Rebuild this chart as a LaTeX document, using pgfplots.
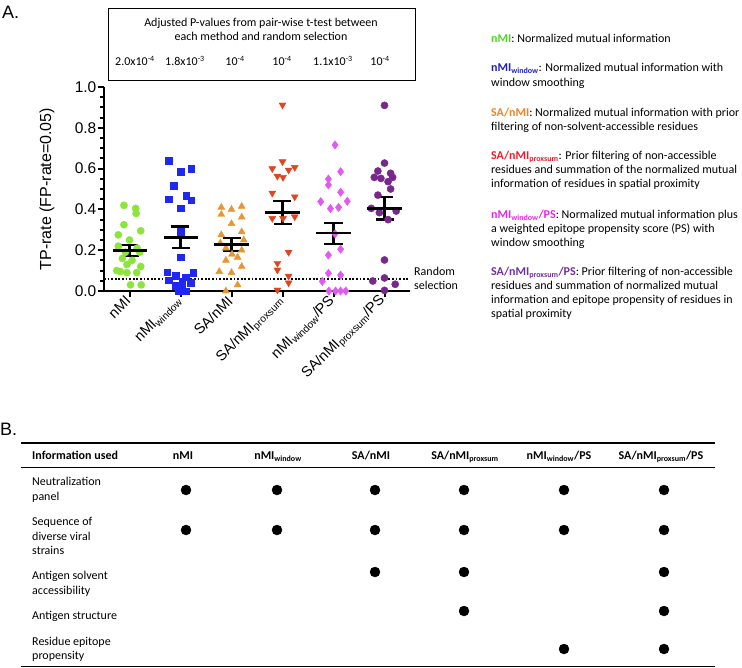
\documentclass[border=0pt]{standalone}
\usepackage{fontspec}
\setmainfont{Liberation Sans}
\newfontfamily\calib{Carlito}
\usepackage{pgfplots}
\usepackage{pgfplotstable}
\pgfplotsset{compat=1.18}

\definecolor{mkgreen}{RGB}{140,228,60}
\definecolor{mkblue}{RGB}{30,40,240}
\definecolor{mkorange}{RGB}{230,150,50}
\definecolor{mkred}{RGB}{222,70,35}
\definecolor{mkmagenta}{RGB}{225,90,240}
\definecolor{mkpurple}{RGB}{120,40,140}
% legend text colours
\definecolor{txgreen}{RGB}{80,210,40}
\definecolor{txblue}{RGB}{30,30,200}
\definecolor{txorange}{RGB}{240,130,40}
\definecolor{txred}{RGB}{235,30,40}
\definecolor{txmagenta}{RGB}{230,40,230}
\definecolor{txpurple}{RGB}{112,48,160}

\newcommand\cf{\calib\fontsize{12}{14.5}\selectfont}
\newcommand\sub[1]{\textsubscript{#1}}

% dx = horizontal jitter around the category, y = TP-rate
\pgfplotstableread{
dx y
-0.11 0.42
0.12 0.405
0.13 0.38
-0.11 0.325
0.22 0.295
-0.22 0.275
0.00 0.25
-0.22 0.22
0.15 0.21
-0.08 0.19
0.20 0.19
-0.14 0.16
0.05 0.15
-0.05 0.13
0.22 0.12
-0.25 0.10
-0.05 0.09
0.14 0.09
-0.18 0.095
0.02 0.03
0.23 0.03
}\nmi
\pgfplotstableread{
dx y
-0.23 0.64
0.00 0.585
0.21 0.60
-0.13 0.515
-0.23 0.45
0.11 0.467
0.21 0.445
0.00 0.405
0.00 0.29
0.00 0.165
-0.26 0.093
0.25 0.09
-0.10 0.076
0.10 0.068
-0.23 0.052
0.03 0.045
0.20 0.04
-0.10 0.027
0.03 0.015
-0.03 0.0
0.10 0.0
}\nmiw
\pgfplotstableread{
dx y
-0.20 0.41
0.00 0.40
0.20 0.415
-0.20 0.375
0.20 0.362
0.00 0.33
0.20 0.29
-0.20 0.275
0.24 0.25
-0.22 0.235
0.20 0.20
-0.11 0.21
0.01 0.18
0.12 0.165
-0.11 0.15
0.20 0.12
-0.24 0.095
0.00 0.09
0.12 0.03
-0.11 0.0
}\sanmi
\pgfplotstableread{
dx y
0.00 0.912
0.00 0.634
-0.20 0.60
0.12 0.593
0.24 0.606
-0.10 0.563
0.01 0.557
-0.20 0.48
0.24 0.462
-0.20 0.356
0.01 0.356
0.24 0.364
0.12 0.19
-0.10 0.136
-0.10 0.103
0.12 0.073
0.12 0.04
-0.10 0.005
}\sanmip
\pgfplotstableread{
dx y
0.03 0.716
0.14 0.585
-0.10 0.549
-0.10 0.52
0.14 0.484
-0.25 0.438
-0.06 0.404
0.10 0.41
0.27 0.44
0.03 0.28
0.14 0.205
-0.10 0.176
-0.10 0.087
0.14 0.078
-0.22 0.047
-0.09 0.0
0.04 0.0
0.14 0.0
0.24 0.0
}\nmiwps
\pgfplotstableread{
dx y
0.00 0.91
0.00 0.627
-0.13 0.588
0.12 0.577
-0.20 0.557
0.16 0.557
-0.07 0.552
0.07 0.536
0.12 0.50
-0.13 0.47
-0.26 0.405
-0.10 0.384
0.23 0.392
0.07 0.35
0.00 0.152
0.00 0.064
-0.23 0.049
0.21 0.033
0.00 0.003
}\sanmipps
% mean and SEM
\pgfplotstableread{
x m e
0 0.198 0.028
1 0.263 0.053
2 0.228 0.030
3 0.385 0.057
4 0.283 0.051
5 0.405 0.055
}\means
% panel B: which information each method uses (x = column centre, y = row centre, px)
\pgfplotstableread{
x y
186 490
277 490
375 490
464 490
564 490
664 490
186 530
277 530
375 530
464 530
564 530
664 530
375 572
464 572
664 572
464 611
664 611
564 649
664 649
}\used

\begin{document}
\begin{tikzpicture}
\path[use as bounding box] (0pt,0pt) rectangle (742pt,-668pt);

\begin{axis}[
  at={(104pt,-291pt)}, anchor=south west,
  scale only axis, width=306pt, height=204pt,
  xmin=-0.5, xmax=5.5, ymin=0, ymax=1,
  clip=false,
  axis x line*=bottom, axis y line*=left,
  axis line style={line width=2.6pt},
  xtick pos=left, ytick pos=left,
  xtick={0,1,2,3,4,5},
  xticklabels={nMI, nMI\sub{window}, SA/nMI, SA/nMI\sub{proxsum}, nMI\sub{window}/PS, SA/nMI\sub{proxsum}/PS},
  ytick={0,0.2,0.4,0.6,0.8,1},
  yticklabels={0.0,0.2,0.4,0.6,0.8,1.0},
  minor y tick num=3,
  tick align=outside,
  tick style={line width=2pt, black},
  major tick length=6pt, minor tick length=4pt,
  xticklabel style={rotate=45, anchor=east, font=\fontsize{14.5}{14.5}\selectfont, inner sep=2pt},
  yticklabel style={font=\fontsize{15.5}{15.5}\selectfont, inner sep=1.5pt},
  ylabel={TP-rate (FP-rate=0.05)},
  ylabel style={at={(axis description cs:-0.186,0.5)}, anchor=center, font=\fontsize{16}{16}\selectfont},
]
\addplot[black, line width=1.8pt, dash pattern=on 1.8pt off 1.8pt] coordinates {(-0.5,0.06) (5.5,0.06)};
\addplot[only marks, mark=*, mkgreen, mark size=3.6pt] table[x expr=\thisrow{dx}+0, y=y] {\nmi};
\addplot[only marks, mark=square*, mkblue, mark size=3.3pt] table[x expr=\thisrow{dx}+1, y=y] {\nmiw};
\addplot[only marks, mark=triangle*, mkorange, mark size=4pt] table[x expr=\thisrow{dx}+2, y=y] {\sanmi};
\addplot[only marks, mark=triangle*, mkred, mark size=4pt, mark options={rotate=180}] table[x expr=\thisrow{dx}+3, y=y] {\sanmip};
\addplot[only marks, mark=diamond*, mkmagenta, mark size=4.2pt] table[x expr=\thisrow{dx}+4, y=y] {\nmiwps};
\addplot[only marks, mark=*, mkpurple, mark size=3.6pt] table[x expr=\thisrow{dx}+5, y=y] {\sanmipps};
\addplot[only marks, black, mark=-, mark size=17pt, mark options={line width=2.4pt},
  error bars/.cd, y dir=both, y explicit,
  error bar style={line width=2.2pt, black},
  error mark options={rotate=90, line width=2.2pt, black, mark size=9pt}]
  table[x=x, y=m, y error=e] {\means};
\end{axis}

\begin{axis}[
  at={(0pt,0pt)}, anchor=north west,
  scale only axis, width=742pt, height=668pt,
  xmin=0, xmax=742, ymin=0, ymax=668, y dir=reverse,
  hide axis, clip=false,
]
\addplot[only marks, mark=*, black, mark size=5pt] table[x=x, y=y] {\used};
\end{axis}

\begin{scope}[x=1pt, y=-1pt, every node/.style={inner sep=0pt}]
% panel letters
\node[anchor=west, font=\fontsize{18}{18}\selectfont] at (2,12) {A.};
\node[anchor=west, font=\fontsize{18}{18}\selectfont] at (0,429) {B.};

% p-value box
\draw[line width=0.8pt] (108,8) rectangle (415,80);
\node[anchor=base, font=\cf] at (261,27) {Adjusted P-values from pair-wise t-test between};
\node[anchor=base, font=\cf] at (261,41) {each method and random selection};
\node[anchor=base, font=\cf] at (135,66) {2.0x10\textsuperscript{-4}};
\node[anchor=base, font=\cf] at (185,66) {1.8x10\textsuperscript{-3}};
\node[anchor=base, font=\cf] at (235,66) {10\textsuperscript{-4}};
\node[anchor=base, font=\cf] at (282,66) {10\textsuperscript{-4}};
\node[anchor=base, font=\cf] at (333,66) {1.1x10\textsuperscript{-3}};
\node[anchor=base, font=\cf] at (380,66) {10\textsuperscript{-4}};

% random selection label
\node[anchor=base west, font=\cf] at (414,275.5) {Random};
\node[anchor=base west, font=\cf] at (414,289.5) {selection};

% method descriptions
\node[anchor=base west, font=\cf] at (491,42.5) {\textcolor{txgreen}{\bfseries nMI}: Normalized mutual information};
\node[anchor=base west, font=\cf] at (491,71.5) {\textcolor{txblue}{\bfseries nMI\sub{window}}: Normalized mutual information with};
\node[anchor=base west, font=\cf] at (491,86.5) {window smoothing};
\node[anchor=base west, font=\cf] at (491,116.5) {\textcolor{txorange}{\bfseries SA/nMI}: Normalized mutual information with prior};
\node[anchor=base west, font=\cf] at (491,130.5) {filtering of non-solvent-accessible residues};
\node[anchor=base west, font=\cf] at (491,159.5) {\textcolor{txred}{\bfseries SA/nMI\sub{proxsum}}: Prior filtering of non-accessible};
\node[anchor=base west, font=\cf] at (491,173.5) {residues and summation of the normalized mutual};
\node[anchor=base west, font=\cf] at (491,187.5) {information of residues in spatial proximity};
\node[anchor=base west, font=\cf] at (491,218.5) {\textcolor{txmagenta}{\bfseries nMI\sub{window}/PS}: Normalized mutual information plus};
\node[anchor=base west, font=\cf] at (491,232.5) {a weighted epitope propensity score (PS) with};
\node[anchor=base west, font=\cf] at (491,246.5) {window smoothing};
\node[anchor=base west, font=\cf] at (491,275.5) {\textcolor{txpurple}{\bfseries SA/nMI\sub{proxsum}/PS}: Prior filtering of non-accessible};
\node[anchor=base west, font=\cf] at (491,289.5) {residues and summation of normalized mutual};
\node[anchor=base west, font=\cf] at (491,303.5) {information and epitope propensity of residues in};
\node[anchor=base west, font=\cf] at (491,317.5) {spatial proximity};

% panel B table
\draw[line width=1.5pt] (21,443) -- (715,443);
\draw[line width=1.5pt] (21,467.5) -- (715,467.5);
\draw[line width=1.5pt] (21,666.5) -- (715,666.5);
\node[anchor=base west, font=\cf\bfseries] at (32,459.5) {Information used};
\node[anchor=base, font=\cf\bfseries] at (183,459.5) {nMI};
\node[anchor=base, font=\cf\bfseries] at (278,459.5) {nMI\sub{window}};
\node[anchor=base, font=\cf\bfseries] at (371,459.5) {SA/nMI};
\node[anchor=base, font=\cf\bfseries] at (465,459.5) {SA/nMI\sub{proxsum}};
\node[anchor=base, font=\cf\bfseries] at (559,459.5) {nMI\sub{window}/PS};
\node[anchor=base, font=\cf\bfseries] at (661,459.5) {SA/nMI\sub{proxsum}/PS};
\node[anchor=base west, font=\cf] at (32,485) {Neutralization};
\node[anchor=base west, font=\cf] at (32,500) {panel};
\node[anchor=base west, font=\cf] at (32,525) {Sequence of};
\node[anchor=base west, font=\cf] at (32,540) {diverse viral};
\node[anchor=base west, font=\cf] at (32,554) {strains};
\node[anchor=base west, font=\cf] at (32,579) {Antigen solvent};
\node[anchor=base west, font=\cf] at (32,594) {accessibility};
\node[anchor=base west, font=\cf] at (32,619) {Antigen structure};
\node[anchor=base west, font=\cf] at (32,645) {Residue epitope};
\node[anchor=base west, font=\cf] at (32,659) {propensity};
\end{scope}
\end{tikzpicture}
\end{document}
